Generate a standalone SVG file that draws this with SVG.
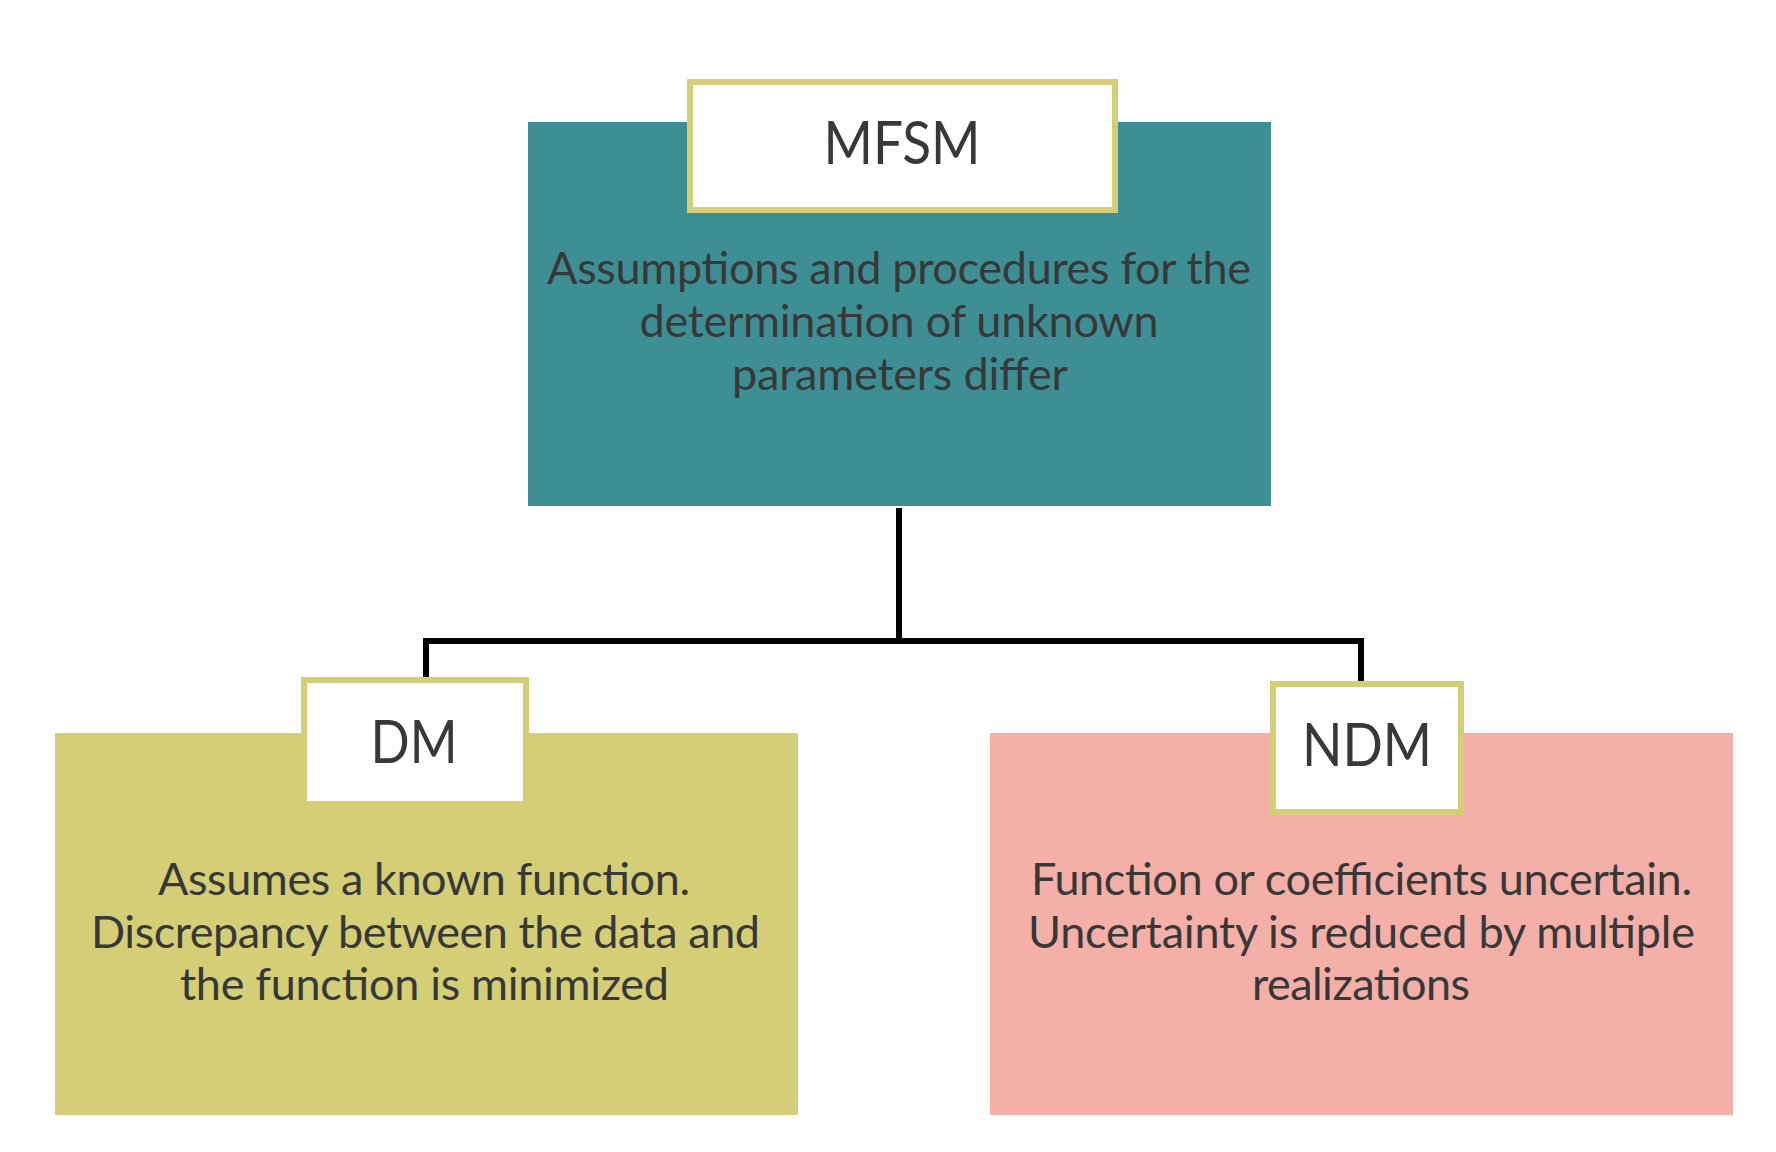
<svg xmlns="http://www.w3.org/2000/svg" width="1776" height="1152" viewBox="0 0 1776 1152">
<style>
.bg{fill:#ffffff}
.title{fill:#ffffff;stroke:#D4CE76;stroke-width:6}
.t{font-family:Lato,"Open Sans","Liberation Sans",sans-serif;fill:#383838;text-anchor:middle}
.h{font-size:60px}
.b{font-size:45px}
.conn{fill:none;stroke:#000000;stroke-width:6}
</style>
<rect class="bg" x="0" y="0" width="1776" height="1152"/>
<g id="connectors">
<path class="conn" d="M899 508 V641"/>
<path class="conn" d="M426 680 V641 H1361 V684"/>
</g>
<g id="node-mfsm">
<rect x="528" y="122" width="743" height="384" fill="#3E8F94"/>
<rect class="title" x="690" y="82" width="425" height="128"/>
<text class="t h" x="902" y="164" textLength="157" lengthAdjust="spacingAndGlyphs">MFSM</text>
<text class="t b" x="899" y="284" textLength="704">Assumptions and procedures for the</text>
<text class="t b" x="899" y="337" textLength="519">determination of unknown</text>
<text class="t b" x="900" y="390" textLength="336">parameters differ</text>
</g>
<g id="node-dm">
<rect x="55" y="733" width="743" height="382" fill="#D4CE76"/>
<rect class="title" x="304" y="680" width="222" height="124"/>
<text class="t h" x="414" y="763" textLength="87" lengthAdjust="spacingAndGlyphs">DM</text>
<text class="t b" x="424" y="895" textLength="532">Assumes a known function.</text>
<text class="t b" x="425.5" y="948" textLength="669">Discrepancy between the data and</text>
<text class="t b" x="424.5" y="1000" textLength="489">the function is minimized</text>
</g>
<g id="node-ndm">
<rect x="990" y="733" width="743" height="382" fill="#F4B0A8"/>
<rect class="title" x="1273" y="684" width="188" height="128"/>
<text class="t h" x="1367" y="766" textLength="130" lengthAdjust="spacingAndGlyphs">NDM</text>
<text class="t b" x="1361.5" y="895" textLength="661">Function or coefficients uncertain.</text>
<text class="t b" x="1361.5" y="948" textLength="667">Uncertainty is reduced by multiple</text>
<text class="t b" x="1361" y="1000" textLength="218">realizations</text>
</g>
</svg>
